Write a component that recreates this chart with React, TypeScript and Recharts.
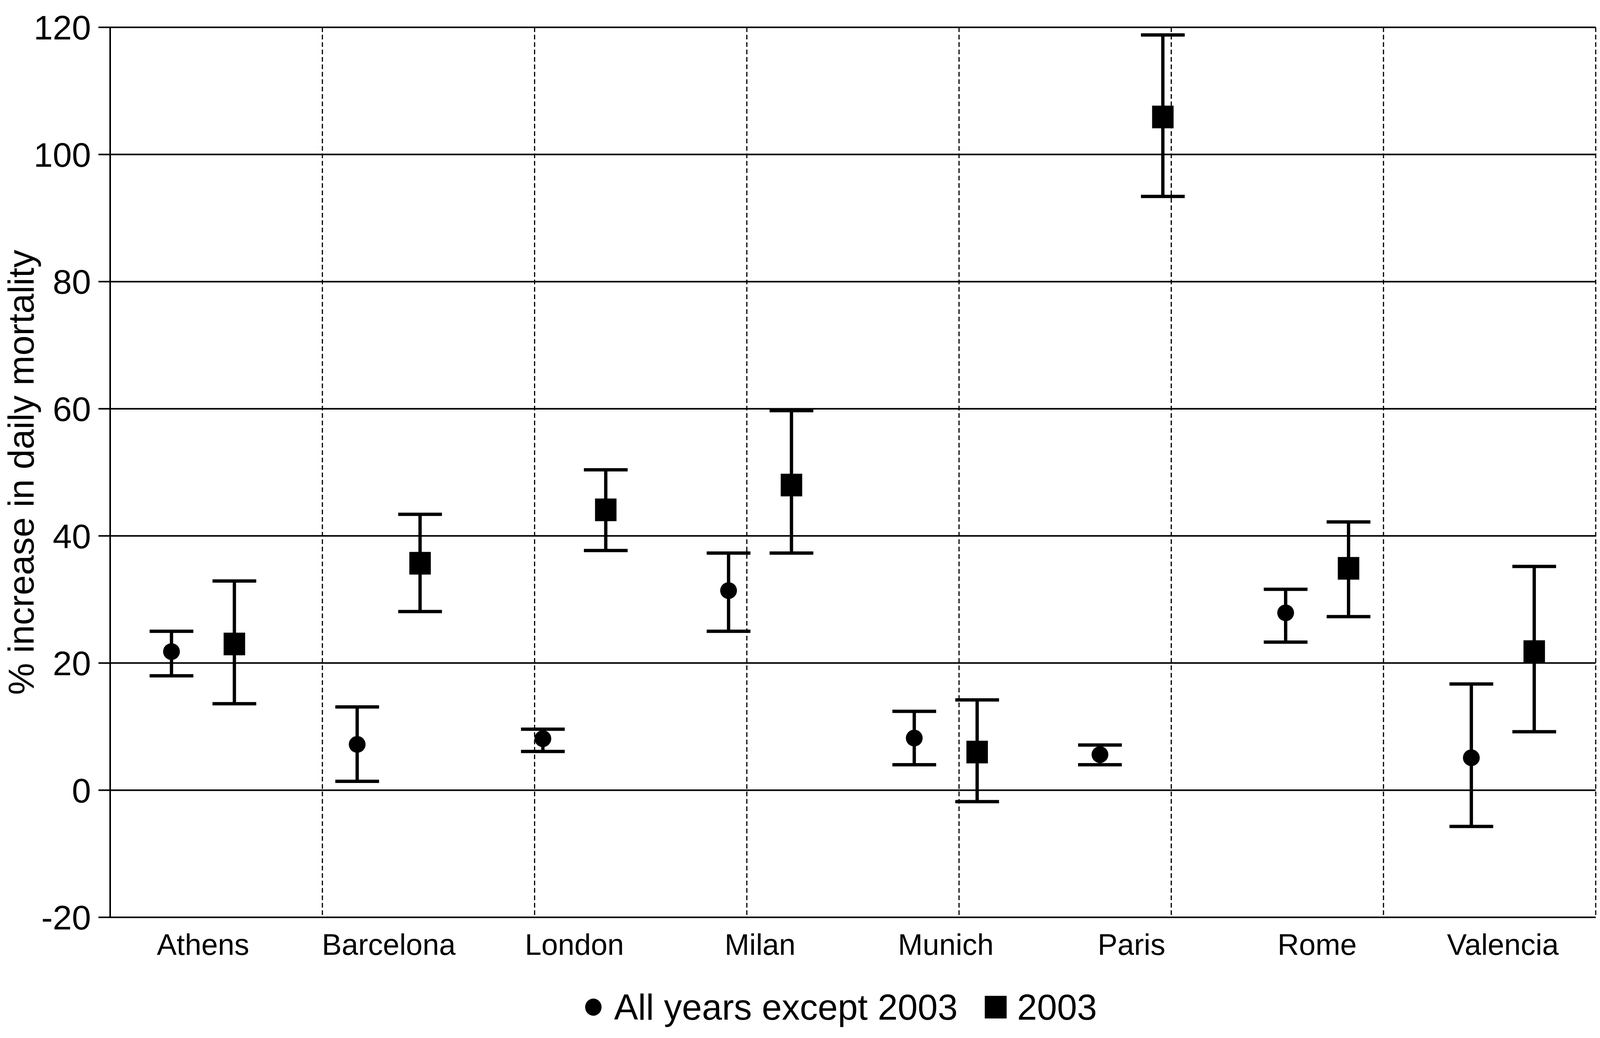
import React from 'react';
import { ComposedChart, Bar, ErrorBar, XAxis, YAxis, CartesianGrid, Legend, Label } from 'recharts';

const FONT = '"Liberation Sans", Arial, sans-serif';

const cities = ['Athens', 'Barcelona', 'London', 'Milan', 'Munich', 'Paris', 'Rome', 'Valencia'];

// All years except 2003: estimate with lower / upper limit
const allYears = [21.8, 7.2, 8.1, 31.4, 8.2, 5.6, 27.9, 5.1];
const allYearsLow = [18.0, 1.4, 6.1, 25.0, 4.0, 4.0, 23.3, -5.7];
const allYearsHigh = [25.0, 13.1, 9.6, 37.3, 12.4, 7.1, 31.6, 16.7];

// 2003 only
const year2003 = [23.0, 35.7, 44.1, 48.0, 6.0, 105.9, 34.9, 21.8];
const year2003Low = [13.6, 28.1, 37.7, 37.3, -1.8, 93.4, 27.3, 9.2];
const year2003High = [32.9, 43.4, 50.4, 59.7, 14.2, 118.8, 42.2, 35.2];

const yTicks = [-20, 0, 20, 40, 60, 80, 100, 120];
const yDomain: [number, number] = [-20, 120];

const series = [
  { key: 'allYears', errKey: 'allYearsErr', name: 'All years except 2003', marker: 'circle' },
  { key: 'year2003', errKey: 'year2003Err', name: '2003', marker: 'square' },
];

const data = cities.map((city, i) => ({
  city,
  allYears: allYears[i],
  allYearsErr: [allYears[i] - allYearsLow[i], allYearsHigh[i] - allYears[i]],
  year2003: year2003[i],
  year2003Err: [year2003[i] - year2003Low[i], year2003High[i] - year2003[i]],
}));

// dashed separators sit between the city bands
const cityBounds = cities.slice(1).map((_, i) => i + 1);

const W = 4096;
const H = 2658;

const CircleMark = (props: any) => {
  const { x, y, width } = props;
  return <circle cx={x + width / 2} cy={y} r={21.5} fill="#000" />;
};

const SquareMark = (props: any) => {
  const { x, y, width } = props;
  return <rect x={x + width / 2 - 27.5} y={y - 29} width={55} height={58} fill="#000" />;
};

const YTitle = (props: any) => {
  const { viewBox } = props;
  const x = viewBox.x + 86;
  const y = viewBox.y + viewBox.height / 2;
  return (
    <text x={x} y={y} transform={`rotate(-90, ${x}, ${y})`} textAnchor="middle" fontSize={92} fontFamily={FONT} fill="#000">
      % increase in daily mortality
    </text>
  );
};

const LegendContent = () => (
  <div style={{ display: 'flex', alignItems: 'center', fontFamily: FONT, fontSize: 92, lineHeight: 1, color: '#000', whiteSpace: 'nowrap' }}>
    {series.map((s, i) => (
      <React.Fragment key={s.key}>
        {s.marker === 'circle' ? (
          <svg width={42} height={44} style={{ marginLeft: i === 0 ? 0 : 69 }}>
            <ellipse cx={21} cy={22} rx={21} ry={22} fill="#000" />
          </svg>
        ) : (
          <svg width={56} height={58} style={{ marginLeft: i === 0 ? 0 : 69 }}>
            <rect x={0} y={0} width={56} height={58} fill="#000" />
          </svg>
        )}
        <span style={{ marginLeft: s.marker === 'circle' ? 32 : 27 }}>{s.name}</span>
      </React.Fragment>
    ))}
  </div>
);

export default function App() {
  return (
    <div style={{ width: W, height: H, background: '#fff' }}>
      <style>{'body{margin:0}'}</style>
      <ComposedChart
        width={W}
        height={H}
        data={data}
        margin={{ top: 70, right: 11, left: 0, bottom: 159 }}
        barSize={54}
        barGap={107}
      >
        <CartesianGrid vertical={false} stroke="#000" strokeWidth={4} />
        <CartesianGrid horizontal={false} xAxisId="bounds" stroke="#000" strokeWidth={3} strokeDasharray="12 7" />
        <XAxis
          dataKey="city"
          height={150}
          tickLine={false}
          tickSize={0}
          tickMargin={42}
          axisLine={{ stroke: '#000', strokeWidth: 4 }}
          tick={{ fontSize: 76, fill: '#000', fontFamily: FONT }}
          interval={0}
        />
        <XAxis
          xAxisId="bounds"
          type="number"
          domain={[0, cities.length]}
          allowDataOverflow
          ticks={cityBounds}
          hide
        />
        <YAxis
          width={282}
          domain={yDomain}
          ticks={yTicks}
          interval={0}
          tickSize={30}
          tickMargin={19}
          tickLine={{ stroke: '#000', strokeWidth: 4 }}
          axisLine={{ stroke: '#000', strokeWidth: 4 }}
          tick={{ fontSize: 88, fill: '#000', fontFamily: FONT }}
        >
          <Label content={<YTitle />} />
        </YAxis>
        <YAxis
          yAxisId="right"
          orientation="right"
          width={0}
          domain={yDomain}
          ticks={yTicks}
          tick={false}
          tickLine={false}
          axisLine={{ stroke: '#000', strokeWidth: 4 }}
        />
        {series.map((s) => (
          <Bar
            key={s.key}
            dataKey={s.key}
            name={s.name}
            fill="#000"
            isAnimationActive={false}
            shape={s.marker === 'circle' ? <CircleMark /> : <SquareMark />}
          >
            <ErrorBar dataKey={s.errKey} width={56} strokeWidth={8.5} stroke="#000" direction="y" isAnimationActive={false} />
          </Bar>
        ))}
        <Legend
          layout="vertical"
          align="center"
          verticalAlign="middle"
          content={<LegendContent />}
          wrapperStyle={{ left: 1498, top: 2533, width: 'auto' }}
        />
      </ComposedChart>
    </div>
  );
}
